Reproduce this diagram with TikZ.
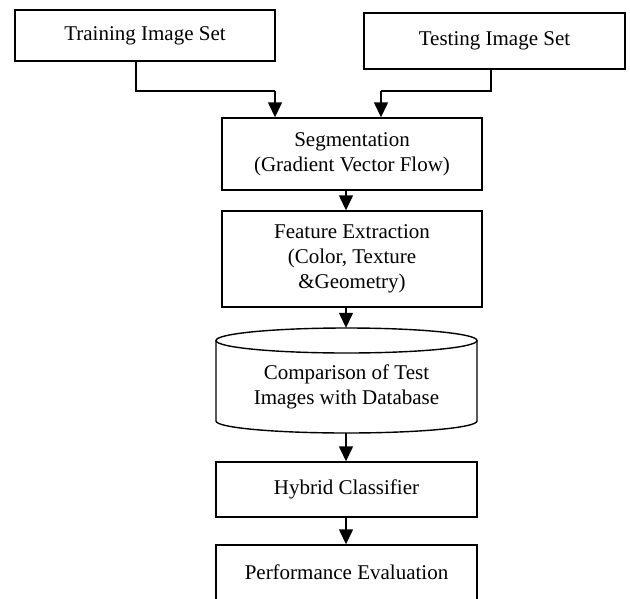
\documentclass[tikz,border=0pt]{standalone}
\usepackage{fontspec}
\setmainfont{Liberation Serif}
\usetikzlibrary{arrows.meta}
\tikzset{
  box/.style={draw, line width=1.4pt, rectangle, align=center, inner sep=0pt,
    font=\fontsize{21}{25}\selectfont},
  plain/.style={rectangle, align=center, inner sep=0pt,
    font=\fontsize{21}{25}\selectfont},
  arr/.style={line width=1.4pt, -{Triangle[width=14pt,length=15pt]}},
  conn/.style={line width=1.4pt}
}
\begin{document}
\begin{tikzpicture}[x=1pt,y=-1pt]
\useasboundingbox (0,0) rectangle (630,598);
\clip (0,0) rectangle (630,598);
\node[box, minimum width=260pt, minimum height=51pt] (train) at (145,35.5) {Training Image Set};
\node[box, minimum width=261pt, minimum height=56pt] (test) at (494.5,41) {Testing Image Set};
\node[box, minimum width=260pt, minimum height=72pt] (seg) at (352,154) {Segmentation\\(Gradient Vector Flow)};
\node[box, minimum width=260pt, minimum height=96pt] (feat) at (352,259) {Feature Extraction\\(Color, Texture\\\&Geometry)};
\node[plain, minimum width=261pt, minimum height=105pt] (cyl) at (346.5,380.5) {};
\node[plain] (cyltext) at (346.5,387) {Comparison of Test\\Images with Database};
\node[box, minimum width=261pt, minimum height=55pt] (hyb) at (346.5,489.5) {Hybrid Classifier};
\node[box, minimum width=261pt, minimum height=55pt] (perf) at (346.5,572.5) {Performance Evaluation};
% cylinder outline
\draw[conn] (346.5,340.5) ellipse [x radius=130.5, y radius=12.5];
\draw[conn] (216,340.5) -- (216,421) arc[start angle=180, end angle=0, x radius=130.5, y radius=12] -- (477,340.5);
% connectors
\coordinate (tx) at (136,0);
\coordinate (tb) at (275,91);
\coordinate (sx) at (491,0);
\coordinate (sb) at (381,91);
\coordinate (cx) at (346,0);
\draw[conn] (tx |- train.south) |- (tb);
\draw[arr] (tb) -- (tb |- seg.north);
\draw[conn] (sx |- test.south) |- (sb);
\draw[arr] (sb) -- (sb |- seg.north);
\draw[arr] (cx |- seg.south) -- (cx |- feat.north);
\draw[arr] (cx |- feat.south) -- (cx |- cyl.north);
\draw[arr] (cx |- cyl.south) -- (cx |- hyb.north);
\draw[arr] (cx |- hyb.south) -- (cx |- perf.north);
\end{tikzpicture}
\end{document}
